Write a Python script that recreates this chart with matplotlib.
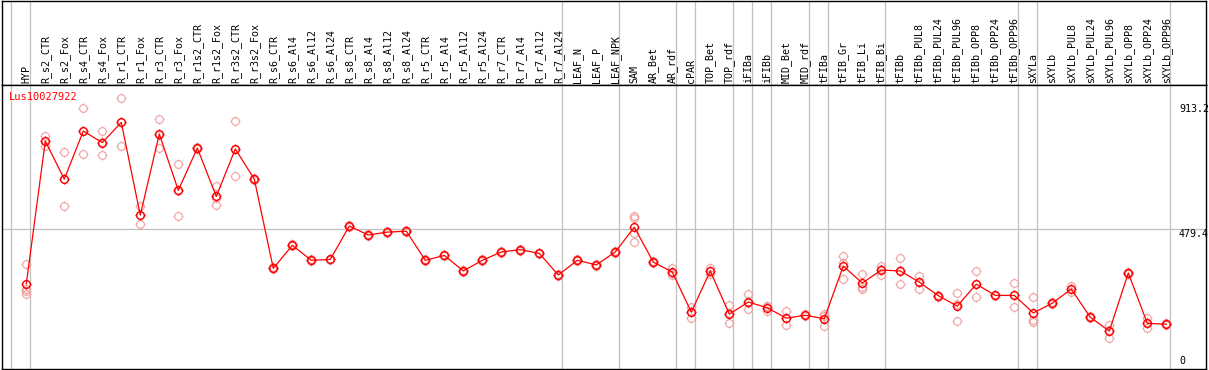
import numpy as np
import matplotlib
matplotlib.use('Agg')
import matplotlib.pyplot as plt
from matplotlib.path import Path
import matplotlib.transforms as mtransforms

# Sample names (header, rotated)
categories = [
    'HYP', 'R_s2_CTR', 'R_s2_Fox', 'R_s4_CTR', 'R_s4_Fox', 'R_r1_CTR', 'R_r1_Fox',
    'R_r3_CTR', 'R_r3_Fox', 'R_r1s2_CTR', 'R_r1s2_Fox', 'R_r3s2_CTR', 'R_r3s2_Fox',
    'R_s6_CTR', 'R_s6_Al4', 'R_s6_Al12', 'R_s6_Al24', 'R_s8_CTR', 'R_s8_Al4',
    'R_s8_Al12', 'R_s8_Al24', 'R_r5_CTR', 'R_r5_Al4', 'R_r5_Al12', 'R_r5_Al24',
    'R_r7_CTR', 'R_r7_Al4', 'R_r7_Al12', 'R_r7_Al24', 'LEAF_N', 'LEAF_P', 'LEAF_NPK',
    'SAM', 'AR_Bet', 'AR_rdf', 'cPAR', 'TOP_Bet', 'TOP_rdf', 'iFIBa', 'iFIBb',
    'MID_Bet', 'MID_rdf', 'tFIBa', 'tFIB_Gr', 'tFIB_Li', 'tFIB_Bi', 'tFIBb',
    'tFIBb_PUL8', 'tFIBb_PUL24', 'tFIBb_PUL96', 'tFIBb_OPP8', 'tFIBb_OPP24',
    'tFIBb_OPP96', 'sXYLa', 'sXYLb', 'sXYLb_PUL8', 'sXYLb_PUL24', 'sXYLb_PUL96',
    'sXYLb_OPP8', 'sXYLb_OPP24', 'sXYLb_OPP96',
]

# Mean expression per sample
means = [
    287, 783, 651, 818, 778, 848, 526, 808, 612, 759, 591, 756, 651,
    341, 421, 369, 372, 488, 457, 467, 470, 369, 386, 332, 369,
    398, 406, 393, 318, 369, 353, 398,
    484, 363, 328, 189, 332, 182, 224, 204,
    168, 178, 166, 349, 290, 335, 332,
    293, 246, 210, 286, 247, 247,
    186, 220, 269, 171, 123, 325, 150, 147,
]

# Individual replicates
replicates = [
    [355, 270, 262, 252], [800, 783, 767], [744, 652, 558], [897, 819, 738],
    [818, 780, 735], [932, 848, 766], [558, 526, 495], [859, 806, 758],
    [704, 610, 523], [764, 759, 754], [627, 586, 560], [852, 754, 661],
    [654, 651, 648], [344, 341, 338], [424, 421, 418], [372, 369, 366],
    [375, 372, 369], [491, 488, 485], [460, 457, 454], [470, 467, 464],
    [473, 470, 467], [372, 369, 366], [389, 386, 383], [335, 332, 329],
    [372, 369, 366], [401, 398, 395], [409, 406, 403], [396, 393, 390],
    [321, 318, 315], [372, 369, 366], [356, 353, 350], [401, 398, 395],
    [523, 516, 464, 433], [366, 363, 360], [341, 326, 318], [208, 191, 170],
    [343, 332, 320], [213, 185, 150], [252, 222, 199], [210, 209, 194],
    [193, 169, 144], [181, 178, 175], [182, 174, 142], [384, 359, 303],
    [321, 275, 268], [349, 338, 319], [376, 334, 286],
    [315, 293, 270], [249, 246, 243], [256, 217, 157], [332, 285, 240],
    [250, 247, 244], [289, 247, 206],
    [240, 162, 156], [223, 220, 217], [281, 269, 258], [174, 171, 168],
    [144, 128, 98], [328, 325, 322], [168, 150, 133], [150, 147, 144],
]

# Group separators (after these sample indices)
separators = [-1, 0, 28, 31, 34, 35, 37, 38, 39, 41, 42, 45, 52, 53, 60]

gene_id = 'Lus10027922'
tick_values = [913.2, 479.4, 0]

W, H = 1209, 370
fig = plt.figure(figsize=(W / 100, H / 100), dpi=100)

left_px, right_px = 1.5, 1205.5
head_top, head_bot, plot_bot = 0.5, 85, 369
ax_head = fig.add_axes([left_px / W, 1 - head_bot / H, (right_px - left_px) / W, (head_bot - head_top) / H])
ax = fig.add_axes([left_px / W, 1 - plot_bot / H, (right_px - left_px) / W, (plot_bot - head_bot) / H])

x = np.arange(len(categories))
xmin = (left_px - 26.3) / 19
xmax = (right_px - 26.3) / 19
scale = 0.2878
ymin = (366.5 - plot_bot) / scale
ymax = (366.5 - head_bot) / scale

grid_col = '#c0c0c0'
for a in (ax_head, ax):
    a.set_xlim(xmin, xmax)
    a.set_xticks([])
    a.set_yticks([])
    for s in a.spines.values():
        s.set_color('black')
        s.set_linewidth(1.0)
    for sep in separators:
        a.axvline(sep + 0.22, color=grid_col, lw=0.9, zorder=0)
ax_head.set_ylim(0, 1)
ax.set_ylim(ymin, ymax)
ax.axhline(tick_values[1], color=grid_col, lw=0.9, zorder=0)

# circle marker with small ticks
circ = Path.unit_circle()
ticks = Path([(0, 1), (0, 1.3), (0, -1), (0, -1.3), (1, 0), (1.3, 0), (-1, 0), (-1.3, 0)],
             [Path.MOVETO, Path.LINETO] * 4)
marker = Path.make_compound_path(circ, ticks)

mono = 'DejaVu Sans Mono'
for i, name in enumerate(categories):
    ax_head.text(i, 2 / 85, name, rotation=90, ha='center', va='bottom',
                 fontsize=7.2, family=mono, color='black')

# replicates
for i, reps in enumerate(replicates):
    ax.plot([i] * len(reps), reps, linestyle='none', marker=marker, markersize=7.2,
            markerfacecolor='none', markeredgecolor='#f0a0a0', markeredgewidth=0.8, zorder=2)

ax.plot(x, means, color='red', lw=0.9, zorder=3)
ax.plot(x, means, linestyle='none', marker=marker, markersize=7.2, markerfacecolor='none',
        markeredgecolor='red', markeredgewidth=1.0, zorder=4)

ax.text((9.3 - left_px) / (right_px - left_px), (plot_bot - 92) / (plot_bot - head_bot),
        gene_id, transform=ax.transAxes, ha='left', va='top', fontsize=7.5,
        family=mono, color='red')

trans = mtransforms.blended_transform_factory(ax.transAxes, ax.transData)
lx = (1179 - left_px) / (right_px - left_px)
for v in tick_values:
    ax.text(lx, v, f'{v:g}', transform=trans, ha='left',
            va='bottom' if v == 0 else 'top', fontsize=7.2, family=mono, color='black')

fig.savefig('out.png', dpi=100)
